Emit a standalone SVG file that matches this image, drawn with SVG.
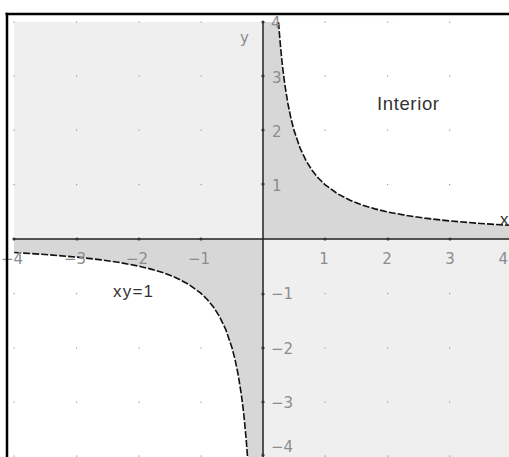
<svg xmlns="http://www.w3.org/2000/svg" width="509" height="457" viewBox="0 0 509 457">
<style>
.lbl{font-family:"DejaVu Sans",sans-serif;font-size:15px;fill:#8c8c8c}
.txt{font-family:"Liberation Sans",Arial,sans-serif;fill:#333}
.axis{stroke:#222;stroke-width:1.5;fill:none}
.curve{stroke:#111;stroke-width:1.6;fill:none;stroke-dasharray:7 2}
.dot{fill:#999}
.tick{fill:#333}
</style>
<rect width="509" height="457" fill="#fff"/>
<g id="regions">
<rect id="bg-light" x="14" y="22" width="495" height="435" fill="#efefef"/>
<path id="q1-dark" fill="#d7d7d7" d="M263,239 L263,22 L278.55,22.2 L279.79,38.26 L281.66,58.33 L282.9,69.62 L284.77,84.14 L287.88,103.5 L290.99,118.56 L294.1,130.6 L300.32,148.67 L306.54,161.57 L312.76,171.25 L318.98,178.78 L325.2,184.8 L337.64,193.83 L350.08,200.29 L362.52,205.13 L374.96,208.89 L387.4,211.9 L406.06,215.43 L424.72,218.15 L449.6,220.93 L480.7,223.51 L509,225.3 L509,239 Z"/>
<path id="q1-white" fill="#fff" d="M278.55,22.2 L279.79,38.26 L281.66,58.33 L282.9,69.62 L284.77,84.14 L287.88,103.5 L290.99,118.56 L294.1,130.6 L300.32,148.67 L306.54,161.57 L312.76,171.25 L318.98,178.78 L325.2,184.8 L337.64,193.83 L350.08,200.29 L362.52,205.13 L374.96,208.89 L387.4,211.9 L406.06,215.43 L424.72,218.15 L449.6,220.93 L480.7,223.51 L509,225.3 L509,22 Z"/>
<path id="q3-dark" fill="#d7d7d7" d="M263,239 L14,239 L14.2,252.55 L45.3,254.49 L76.4,257.07 L101.28,259.85 L119.94,262.57 L138.6,266.1 L151.04,269.11 L163.48,272.87 L175.92,277.71 L188.36,284.17 L200.8,293.2 L207.02,299.22 L213.24,306.75 L219.46,316.43 L225.68,329.33 L231.9,347.4 L235.01,359.44 L238.12,374.5 L241.23,393.86 L243.1,408.38 L244.34,419.67 L246.21,439.74 L247.45,455.8 L247.5,457 L263,457 Z"/>
<path id="q3-white" fill="#fff" d="M14.2,252.55 L45.3,254.49 L76.4,257.07 L101.28,259.85 L119.94,262.57 L138.6,266.1 L151.04,269.11 L163.48,272.87 L175.92,277.71 L188.36,284.17 L200.8,293.2 L207.02,299.22 L213.24,306.75 L219.46,316.43 L225.68,329.33 L231.9,347.4 L235.01,359.44 L238.12,374.5 L241.23,393.86 L243.1,408.38 L244.34,419.67 L246.21,439.74 L247.45,455.8 L247.5,457 L14,457 Z"/>
</g>
<g id="grid-dots">
<rect class="dot" x="13.5" y="21.5" width="1.2" height="1.2"/><rect class="dot" x="76" y="21.5" width="1.2" height="1.2"/><rect class="dot" x="138.5" y="21.5" width="1.2" height="1.2"/><rect class="dot" x="200.5" y="21.5" width="1.2" height="1.2"/><rect class="dot" x="324.5" y="21.5" width="1.2" height="1.2"/><rect class="dot" x="387" y="21.5" width="1.2" height="1.2"/><rect class="dot" x="449" y="21.5" width="1.2" height="1.2"/>
<rect class="dot" x="13.5" y="75.5" width="1.2" height="1.2"/><rect class="dot" x="76" y="75.5" width="1.2" height="1.2"/><rect class="dot" x="138.5" y="75.5" width="1.2" height="1.2"/><rect class="dot" x="200.5" y="75.5" width="1.2" height="1.2"/><rect class="dot" x="324.5" y="75.5" width="1.2" height="1.2"/><rect class="dot" x="387" y="75.5" width="1.2" height="1.2"/><rect class="dot" x="449" y="75.5" width="1.2" height="1.2"/>
<rect class="dot" x="13.5" y="129.5" width="1.2" height="1.2"/><rect class="dot" x="76" y="129.5" width="1.2" height="1.2"/><rect class="dot" x="138.5" y="129.5" width="1.2" height="1.2"/><rect class="dot" x="200.5" y="129.5" width="1.2" height="1.2"/><rect class="dot" x="324.5" y="129.5" width="1.2" height="1.2"/><rect class="dot" x="387" y="129.5" width="1.2" height="1.2"/><rect class="dot" x="449" y="129.5" width="1.2" height="1.2"/>
<rect class="dot" x="13.5" y="184" width="1.2" height="1.2"/><rect class="dot" x="76" y="184" width="1.2" height="1.2"/><rect class="dot" x="138.5" y="184" width="1.2" height="1.2"/><rect class="dot" x="200.5" y="184" width="1.2" height="1.2"/><rect class="dot" x="324.5" y="184" width="1.2" height="1.2"/><rect class="dot" x="387" y="184" width="1.2" height="1.2"/><rect class="dot" x="449" y="184" width="1.2" height="1.2"/>
<rect class="dot" x="13.5" y="293" width="1.2" height="1.2"/><rect class="dot" x="76" y="293" width="1.2" height="1.2"/><rect class="dot" x="138.5" y="293" width="1.2" height="1.2"/><rect class="dot" x="200.5" y="293" width="1.2" height="1.2"/><rect class="dot" x="324.5" y="293" width="1.2" height="1.2"/><rect class="dot" x="387" y="293" width="1.2" height="1.2"/><rect class="dot" x="449" y="293" width="1.2" height="1.2"/>
<rect class="dot" x="13.5" y="347.5" width="1.2" height="1.2"/><rect class="dot" x="76" y="347.5" width="1.2" height="1.2"/><rect class="dot" x="138.5" y="347.5" width="1.2" height="1.2"/><rect class="dot" x="200.5" y="347.5" width="1.2" height="1.2"/><rect class="dot" x="324.5" y="347.5" width="1.2" height="1.2"/><rect class="dot" x="387" y="347.5" width="1.2" height="1.2"/><rect class="dot" x="449" y="347.5" width="1.2" height="1.2"/>
<rect class="dot" x="13.5" y="401.5" width="1.2" height="1.2"/><rect class="dot" x="76" y="401.5" width="1.2" height="1.2"/><rect class="dot" x="138.5" y="401.5" width="1.2" height="1.2"/><rect class="dot" x="200.5" y="401.5" width="1.2" height="1.2"/><rect class="dot" x="324.5" y="401.5" width="1.2" height="1.2"/><rect class="dot" x="387" y="401.5" width="1.2" height="1.2"/><rect class="dot" x="449" y="401.5" width="1.2" height="1.2"/>
<rect class="dot" x="13.5" y="455.5" width="1.2" height="1.2"/><rect class="dot" x="76" y="455.5" width="1.2" height="1.2"/><rect class="dot" x="138.5" y="455.5" width="1.2" height="1.2"/><rect class="dot" x="200.5" y="455.5" width="1.2" height="1.2"/><rect class="dot" x="324.5" y="455.5" width="1.2" height="1.2"/><rect class="dot" x="387" y="455.5" width="1.2" height="1.2"/><rect class="dot" x="449" y="455.5" width="1.2" height="1.2"/>
</g>
<g id="axes">
<line id="x-axis" class="axis" x1="14" y1="239" x2="509" y2="239"/>
<line id="y-axis" class="axis" x1="263" y1="22" x2="263" y2="457"/>
<g id="ticks" class="tick">
<circle cx="14" cy="239" r="1.6"/><circle cx="77" cy="239" r="1.6"/><circle cx="139" cy="239" r="1.6"/><circle cx="201" cy="239" r="1.6"/><circle cx="325" cy="239" r="1.6"/><circle cx="388" cy="239" r="1.6"/><circle cx="450" cy="239" r="1.6"/>
<circle cx="263" cy="22" r="1.6"/><circle cx="263" cy="76" r="1.6"/><circle cx="263" cy="130" r="1.6"/><circle cx="263" cy="184" r="1.6"/><circle cx="263" cy="294" r="1.6"/><circle cx="263" cy="348" r="1.6"/><circle cx="263" cy="402" r="1.6"/><circle cx="263" cy="455" r="1.6"/>
</g>
</g>
<g id="connectors">
<path id="hyperbola-q1" class="curve" d="M278.55,22.2 L279.79,38.26 L281.66,58.33 L282.9,69.62 L284.77,84.14 L287.88,103.5 L290.99,118.56 L294.1,130.6 L300.32,148.67 L306.54,161.57 L312.76,171.25 L318.98,178.78 L325.2,184.8 L337.64,193.83 L350.08,200.29 L362.52,205.13 L374.96,208.89 L387.4,211.9 L406.06,215.43 L424.72,218.15 L449.6,220.93 L480.7,223.51 L509,225.3"/>
<path id="hyperbola-q3" class="curve" d="M14.2,252.55 L45.3,254.49 L76.4,257.07 L101.28,259.85 L119.94,262.57 L138.6,266.1 L151.04,269.11 L163.48,272.87 L175.92,277.71 L188.36,284.17 L200.8,293.2 L207.02,299.22 L213.24,306.75 L219.46,316.43 L225.68,329.33 L231.9,347.4 L235.01,359.44 L238.12,374.5 L241.23,393.86 L243.1,408.38 L244.34,419.67 L246.21,439.74 L247.45,455.8 L247.5,457"/>
</g>
<g id="tick-labels">
<text class="lbl" x="23" y="264" text-anchor="end">−4</text>
<text class="lbl" x="86" y="264" text-anchor="end">−3</text>
<text class="lbl" x="148" y="264" text-anchor="end">−2</text>
<text class="lbl" x="210" y="264" text-anchor="end">−1</text>
<text class="lbl" x="324" y="264" text-anchor="middle">1</text>
<text class="lbl" x="387" y="264" text-anchor="middle">2</text>
<text class="lbl" x="450" y="264" text-anchor="middle">3</text>
<text class="lbl" x="508" y="264" text-anchor="end">4</text>
<text class="lbl" x="271" y="28">4</text>
<text class="lbl" x="272" y="83">3</text>
<text class="lbl" x="272" y="137">2</text>
<text class="lbl" x="272" y="191">1</text>
<text class="lbl" x="271" y="299">−1</text>
<text class="lbl" x="271" y="354">−2</text>
<text class="lbl" x="271" y="408">−3</text>
<text class="lbl" x="271" y="452">−4</text>
<text class="lbl" x="240" y="43">y</text>
</g>
<g id="labels">
<text id="x-label" class="txt" x="500" y="225" font-size="17" fill="#000">x</text>
<text id="interior" class="txt" x="377" y="110" font-size="18.5" textLength="62">Interior</text>
<text id="xy1" class="txt" x="113" y="297" font-size="17" textLength="40">xy=1</text>
</g>
<g id="frame">
<line x1="5.5" y1="14" x2="509" y2="14" stroke="#000" stroke-width="2.5"/>
<line x1="7" y1="12.75" x2="7" y2="457" stroke="#000" stroke-width="2.5"/>
</g>
</svg>
